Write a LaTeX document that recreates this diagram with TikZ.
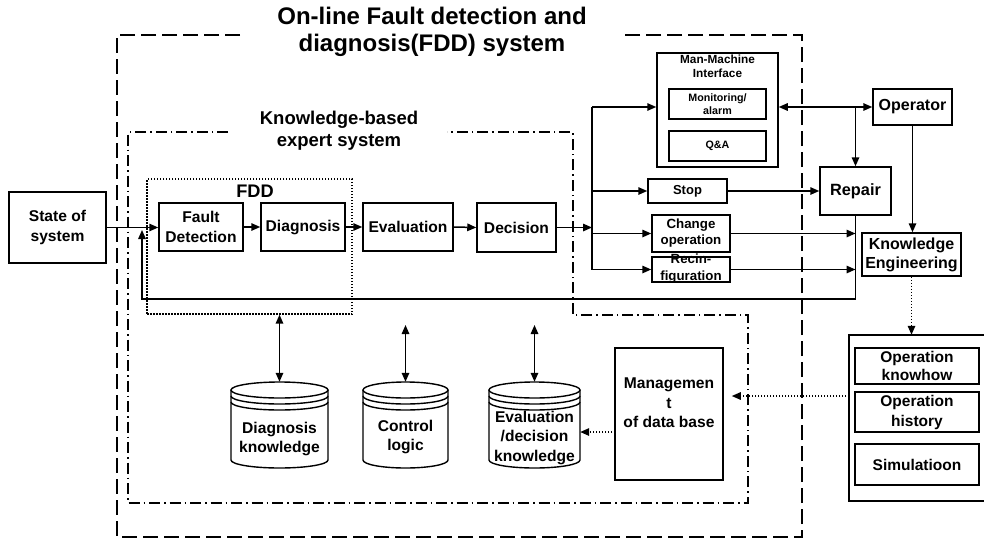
\documentclass[tikz,border=0pt]{standalone}
\usepackage{fontspec}
\setmainfont{Liberation Sans}
\usetikzlibrary{arrows.meta,calc}
\newcommand\fsz[2]{\fontsize{#1}{#2}\selectfont}
\tikzset{
  tip/.tip={Triangle[length=9pt,width=7.5pt]},
  conn/.style={line width=1.5pt},
  box/.style={draw, line width=1.5pt, inner sep=0pt, align=center, font=\bfseries\fsz{15.6}{20}},
  txt/.style={inner sep=0pt, align=center, font=\bfseries\fsz{15.6}{20}},
  arr/.style={line width=1.5pt, -tip},
  darr/.style={line width=1.5pt, tip-tip},
  dotarr/.style={line width=1.4pt, dash pattern=on 1.5pt off 1.5pt, -tip},
  outerline/.style={line width=1.5pt, dash pattern=on 15pt off 6pt},
  kbline/.style={line width=1.3pt, dash pattern=on 11pt off 4pt on 1.5pt off 4pt},
  fddline/.style={draw, line width=1.3pt, dash pattern=on 1.5pt off 1.5pt, inner sep=0pt},
  cylline/.style={line width=1.4pt},
}
\newcommand\dbcyl[4]{%
  \draw[cylline] (#1-#3,#2+8) -- (#1-#3,#4-8) arc[start angle=180,end angle=360,x radius=#3pt,y radius=8pt] -- (#1+#3,#2+8);
  \draw[cylline] (#1,#2+8) ellipse[x radius=#3pt,y radius=8pt];
  \draw[cylline] (#1-#3,#2+14) arc[start angle=180,end angle=360,x radius=#3pt,y radius=8pt];
  \draw[cylline] (#1-#3,#2+20) arc[start angle=180,end angle=360,x radius=#3pt,y radius=8pt];
}
\begin{document}
\begin{tikzpicture}[x=1pt,y=-1pt]
\useasboundingbox (0,0) rectangle (984,541);

% titles
\node[txt, font=\bfseries\fsz{24}{27}] (title) at (432,31.5) {On-line Fault detection and\\diagnosis(FDD) system};
\node[txt, font=\bfseries\fsz{18.5}{22}] (kbtitle) at (339,131) {Knowledge-based\\expert system};

% boundaries
\draw[outerline] (240,35) -- (117,35) -- (117,537) -- (802,537) -- (802,35) -- (625,35);
\draw[kbline] (228,132) -- (128,132) -- (128,503) -- (748,503) -- (748,315) -- (573,315) -- (573,132) -- (447,132);

% FDD block
\node[fddline, minimum width=205pt, minimum height=135pt] (fddbox) at (249.5,246.5) {};
\node[txt, font=\bfseries\fsz{18.2}{20}] (fddlabel) at (255,191) {FDD};

% main chain
\node[box, minimum width=97pt, minimum height=71pt] (state) at (57.5,227.5) {State of\\system};
\node[box, minimum width=84pt, minimum height=48pt] (fd) at (201,227) {Fault\\Detection};
\node[box, minimum width=84pt, minimum height=48pt] (diag) at (303,227) {Diagnosis};
\node[box, minimum width=90pt, minimum height=48pt] (eval) at (408,227) {Evaluation};
\node[box, minimum width=79pt, minimum height=49pt] (dec) at (516.5,227.5) {Decision};

% actions
\node[box, minimum width=121pt, minimum height=114pt] (mmi) at (717.5,110) {};
\node[txt, font=\bfseries\fsz{11.8}{14}] (mmitext) at (717.5,66) {Man-Machine\\Interface};
\node[box, minimum width=97pt, minimum height=30pt, font=\bfseries\fsz{10.7}{13}] (mon) at (717.5,104) {Monitoring/\\alarm};
\node[box, minimum width=97pt, minimum height=30pt, font=\bfseries\fsz{10.7}{13}] (qa) at (717.5,146) {Q\&A};
\node[box, minimum width=79pt, minimum height=24pt, font=\bfseries\fsz{13}{16}] (stop) at (687.5,191) {Stop};
\node[box, minimum width=78pt, minimum height=37pt, font=\bfseries\fsz{13.3}{16}] (chg) at (691,233.5) {Change\\operation};
\node[box, minimum width=78pt, minimum height=25pt] (recin) at (691,269.5) {};
\node[txt, font=\bfseries\fsz{13.3}{17}] (recintext) at (691,268.5) {Recin-\\figuration};

\node[box, minimum width=71pt, minimum height=48pt, font=\bfseries\fsz{16.3}{20}] (repair) at (855.5,191) {Repair};
\node[box, minimum width=79pt, minimum height=36pt, font=\bfseries\fsz{16}{20}] (oper) at (912.5,107) {Operator};
\node[box, minimum width=99pt, minimum height=43pt, font=\bfseries\fsz{16}{19}] (ke) at (911.5,254.5) {Knowledge\\Engineering};

% knowledge base (right, cut by the page edge)
\node[inner sep=0pt, minimum width=135pt, minimum height=166pt] (kbase) at (916.5,418) {};
\draw[line width=1.5pt] (kbase.north east) -- (kbase.north west) -- (kbase.south west) -- (kbase.south east);
\node[box, minimum width=124pt, minimum height=36pt, font=\bfseries\fsz{15.5}{18}] (knowhow) at (917,366) {Operation\\knowhow};
\node[box, minimum width=124pt, minimum height=40pt, font=\bfseries\fsz{15.5}{20}] (ophist) at (917,412) {Operation\\history};
\node[box, minimum width=124pt, minimum height=41pt, font=\bfseries\fsz{15.5}{20}] (sim) at (917,464.5) {Simulatioon};

% management
\node[box, minimum width=108pt, minimum height=132pt] (mgmt) at (669,414) {};
\node[txt, font=\bfseries\fsz{15.6}{19.5}] (mgmttext) at (669,403) {Managemen\\t\\of data base};

% databases
\node[inner sep=0pt, minimum width=97pt, minimum height=86pt] (dkcyl) at (279.5,425) {};
\dbcyl{279.5}{382}{48.5}{468}
\node[txt, font=\bfseries\fsz{15.6}{19}] (dktext) at (279.5,438.5) {Diagnosis\\knowledge};
\node[inner sep=0pt, minimum width=85pt, minimum height=86pt] (clcyl) at (405.5,425) {};
\dbcyl{405.5}{382}{42.5}{468}
\node[txt, font=\bfseries\fsz{15.6}{19}] (cltext) at (405.5,436.5) {Control\\logic};
\node[inner sep=0pt, minimum width=91pt, minimum height=86pt] (evcyl) at (534.5,425) {};
\dbcyl{534.5}{382}{45.5}{468}
\node[txt, font=\bfseries\fsz{15.6}{19.5}] (evtext) at (534.5,437.5) {Evaluation\\/decision\\knowledge};

% coordinates
\coordinate (bustop) at (592,107);
\coordinate (fbk) at (142,299);
\coordinate (fbtip) at (142,230);
\coordinate (ctop) at (405.5,325);
\coordinate (etop) at (534.5,325);
\coordinate (kbout) at (849,396);
\coordinate (mgout) at (615,432);

% main flow
\draw[arr] (state.east) -- (state.east -| fd.west);
\draw[arr] (fd.east) -- (diag.west);
\draw[arr] (diag.east) -- (eval.west);
\draw[arr] (eval.east) -- (dec.west);
\draw[arr] (dec.east) -- (dec.east -| bustop);

% bus
\draw[conn] (bustop) -- (bustop |- recin.west);
\draw[arr] (bustop) -- (bustop -| mmi.west);
\draw[arr] (bustop |- stop.west) -- (stop.west);
\draw[arr] (bustop |- chg.west) -- (chg.west);
\draw[arr] (bustop |- recin.west) -- (recin.west);

% right side
\draw[arr] (stop.east) -- (stop.east -| repair.west);
\draw[darr] (mmi.east |- oper.west) -- (oper.west);
\draw[arr] (repair.north |- oper.west) -- (repair.north);
\draw[arr] (oper.south) -- (oper.south |- ke.north);
\draw[arr] (chg.east) -- (chg.east -| repair.south);
\draw[arr] (recin.east) -- (recin.east -| repair.south);
\draw[arr] (repair.south) -- (repair.south |- fbk) -- (fbk) -- (fbtip);

% knowledge flow
\draw[dotarr] (ke.south) -- (ke.south |- kbase.north);
\draw[dotarr, shorten >=8pt] (kbout) -- (kbout -| mgmt.east);
\draw[dotarr] (mgout) -- (mgout -| evcyl.east);

% database links
\draw[darr] (fddbox.south -| dkcyl.north) -- (dkcyl.north);
\draw[darr] (ctop) -- (clcyl.north);
\draw[darr] (etop) -- (evcyl.north);
\end{tikzpicture}
\end{document}
